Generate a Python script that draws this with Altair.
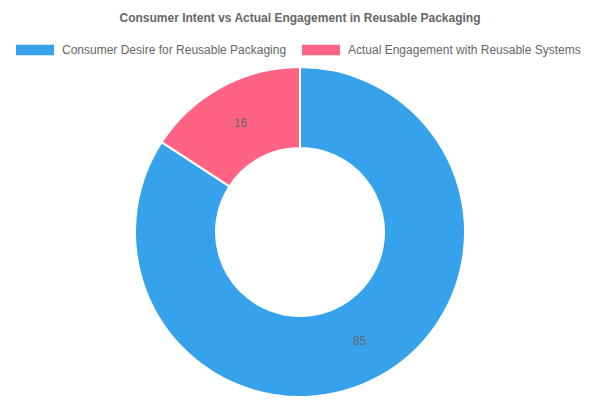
import altair as alt
import pandas as pd

categories = ["Consumer Desire for Reusable Packaging", "Actual Engagement with Reusable Systems"]
values = [85, 16]
colors = ["#36A2EB", "#FF6384"]
order = [0, 1]

df = pd.DataFrame({"category": categories, "value": values, "order": order})

FONT = "Liberation Sans"
TOP = 60
CX, CY = 300, 232 - TOP

base = alt.Chart(df).encode(
    theta=alt.Theta("value:Q", stack=True),
    order=alt.Order("order:Q", sort="ascending"),
)

arc = base.mark_arc(innerRadius=84, outerRadius=165, stroke="white", strokeWidth=2).encode(
    x=alt.value(CX),
    y=alt.value(CY),
    color=alt.Color(
        "category:N",
        scale=alt.Scale(domain=categories, range=colors),
        legend=alt.Legend(
            title=None,
            orient="none",
            direction="horizontal",
            legendX=16,
            legendY=-29,
            symbolType="M-1,-0.27 L1,-0.27 L1,0.27 L-1,0.27 Z",
            symbolSize=1444,
            symbolStrokeWidth=0,
            symbolOpacity=1,
            labelFont=FONT,
            labelFontSize=12,
            labelColor="#666666",
            labelLimit=400,
            labelOffset=8,
            columnPadding=15,
            padding=0,
        ),
    ),
)

labels = base.mark_text(radius=124.5, font=FONT, fontSize=12, color="#666666").encode(
    x=alt.value(CX),
    y=alt.value(CY),
    text=alt.Text("value:Q"),
)

chart = (
    alt.layer(arc, labels)
    .properties(
        width=600,
        height=400 - TOP,
        padding={"left": 0, "right": 0, "top": TOP, "bottom": 0},
        autosize=alt.AutoSizeParams(type="none"),
        title=alt.TitleParams(
            text="Consumer Intent vs Actual Engagement in Reusable Packaging",
            font=FONT,
            fontSize=12,
            fontWeight="bold",
            color="#666666",
            anchor="middle",
            offset=6,
        ),
    )
    .configure_view(stroke=None)
)

chart.save("out.html", embed_options={"renderer": "svg", "actions": False})
